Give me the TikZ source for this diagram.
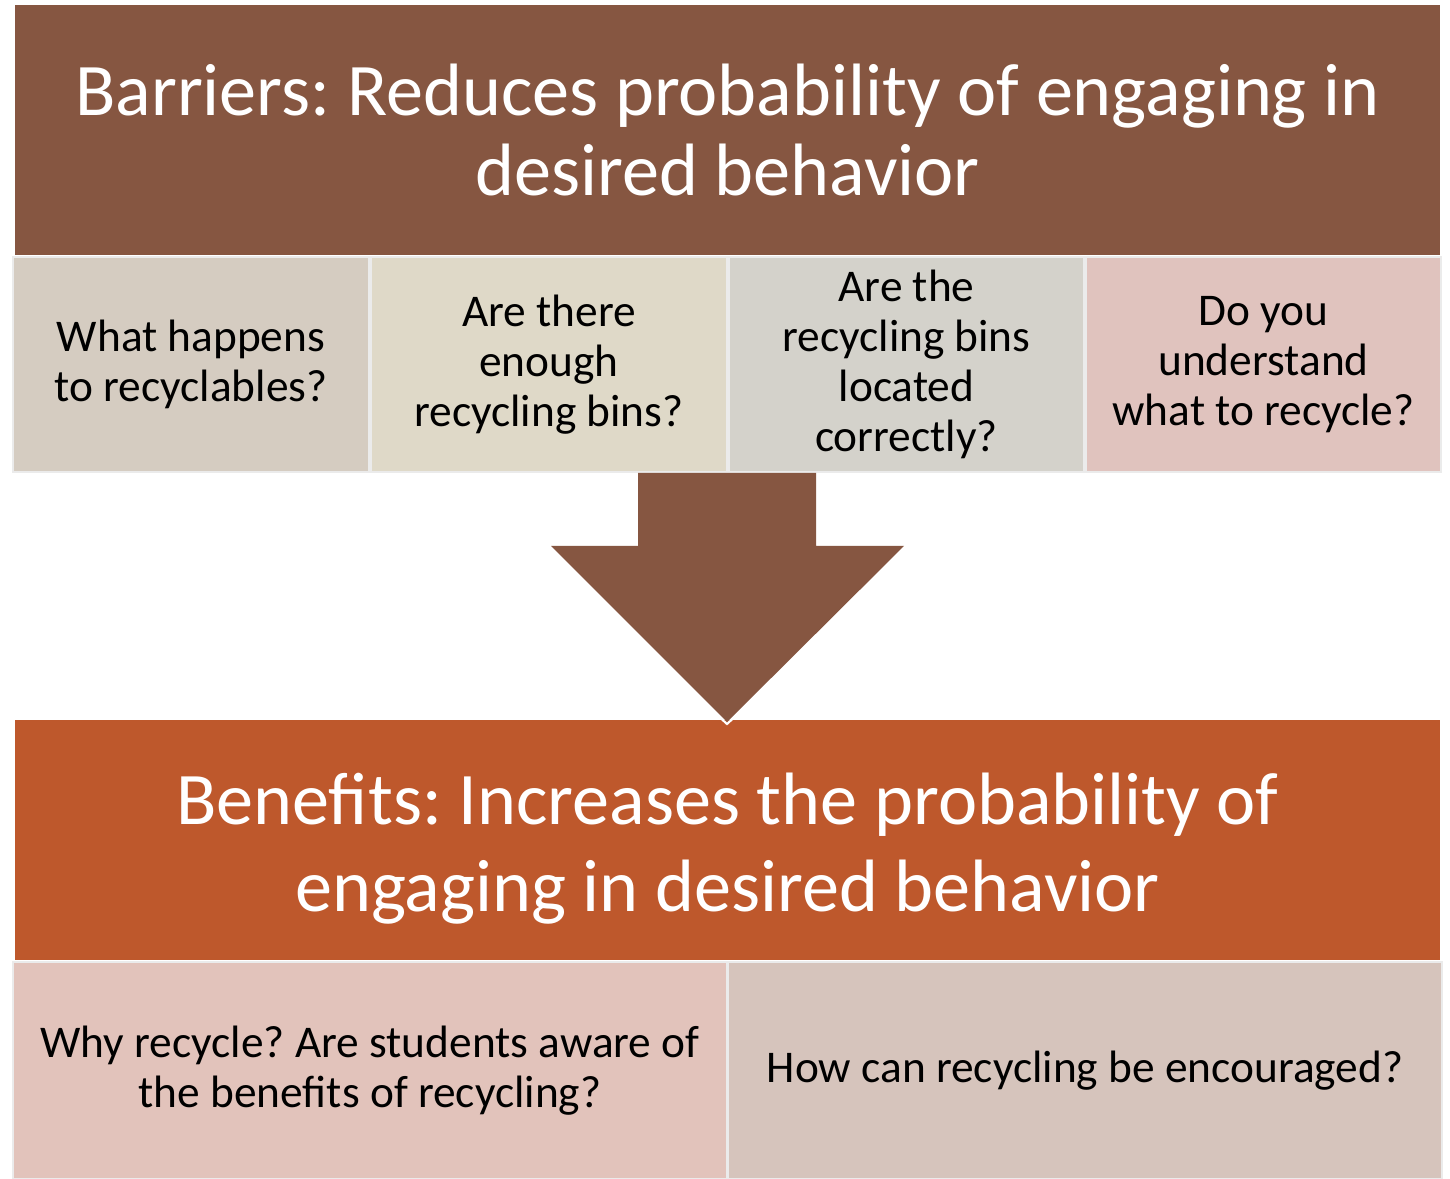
\documentclass[tikz,border=0pt]{standalone}
\usepackage{fontspec}
\setmainfont{Carlito}
\usetikzlibrary{positioning}
\definecolor{barrierbrown}{HTML}{865641}
\definecolor{benefitorange}{HTML}{BE582C}
\definecolor{cellgrey}{HTML}{D5CCC1}
\definecolor{cellbeige}{HTML}{DFD9C8}
\definecolor{cellstone}{HTML}{D4D2CB}
\definecolor{cellpink}{HTML}{E0C3BE}
\definecolor{cellrose}{HTML}{E2C3BB}
\definecolor{celltaupe}{HTML}{D6C4BC}
\frenchspacing
\begin{document}
\begin{tikzpicture}[x=0.01cm,y=-0.01cm,
  every node/.style={inner sep=0pt,outer sep=0pt,align=center},
  header/.style={minimum width=14.25cm,text=white,font=\fontsize{21.1}{22.8}\selectfont},
  cell/.style={draw=white!92!black,line width=0.6pt,minimum height=2.15cm,text=black,font=\fontsize{12.9}{14.2}\selectfont}]
  \useasboundingbox (0,0) rectangle (1450,1179);
  \node[header,fill=barrierbrown,minimum height=2.5cm] (barriers) at (727.5,130) {Barriers: Reduces probability of engaging in\\desired behavior};
  \node[cell,fill=cellgrey,minimum width=3.56cm] (happens) at (191,364.5) {What happens\\to recyclables?};
  \node[cell,fill=cellbeige,minimum width=3.56cm] (enough) at (549,364.5) {Are there\\enough\\recycling bins?};
  \node[cell,fill=cellstone,minimum width=3.55cm] (located) at (906.5,364.5) {Are the\\recycling bins\\located\\correctly?};
  \node[cell,fill=cellpink,minimum width=3.55cm] (understand) at (1263.5,364.5) {Do you\\understand\\what to recycle?};
  \node[header,fill=benefitorange,minimum height=2.4cm] (benefits) at (727.5,840) {\rule{0pt}{19.5pt}Benefits: Increases the probability of\\[2pt]engaging in desired behavior};
  \node[cell,fill=cellrose,minimum width=7.14cm,minimum height=2.17cm] (why) at (370,1070.5) {Why recycle? Are students aware of\\the benefits of recycling?};
  \node[cell,fill=celltaupe,minimum width=7.13cm,minimum height=2.17cm] (encourage) at (1085,1070.5) {How can recycling be encouraged?};
  \fill[barrierbrown] (638,473) -- (816,473) -- (816,546) -- (904,546) -- (727,722) -- (551,546) -- (638,546) -- cycle;
  \draw[white,line width=0.6pt] (715,713) -- (727,724) -- (739,713);
\end{tikzpicture}
\end{document}
